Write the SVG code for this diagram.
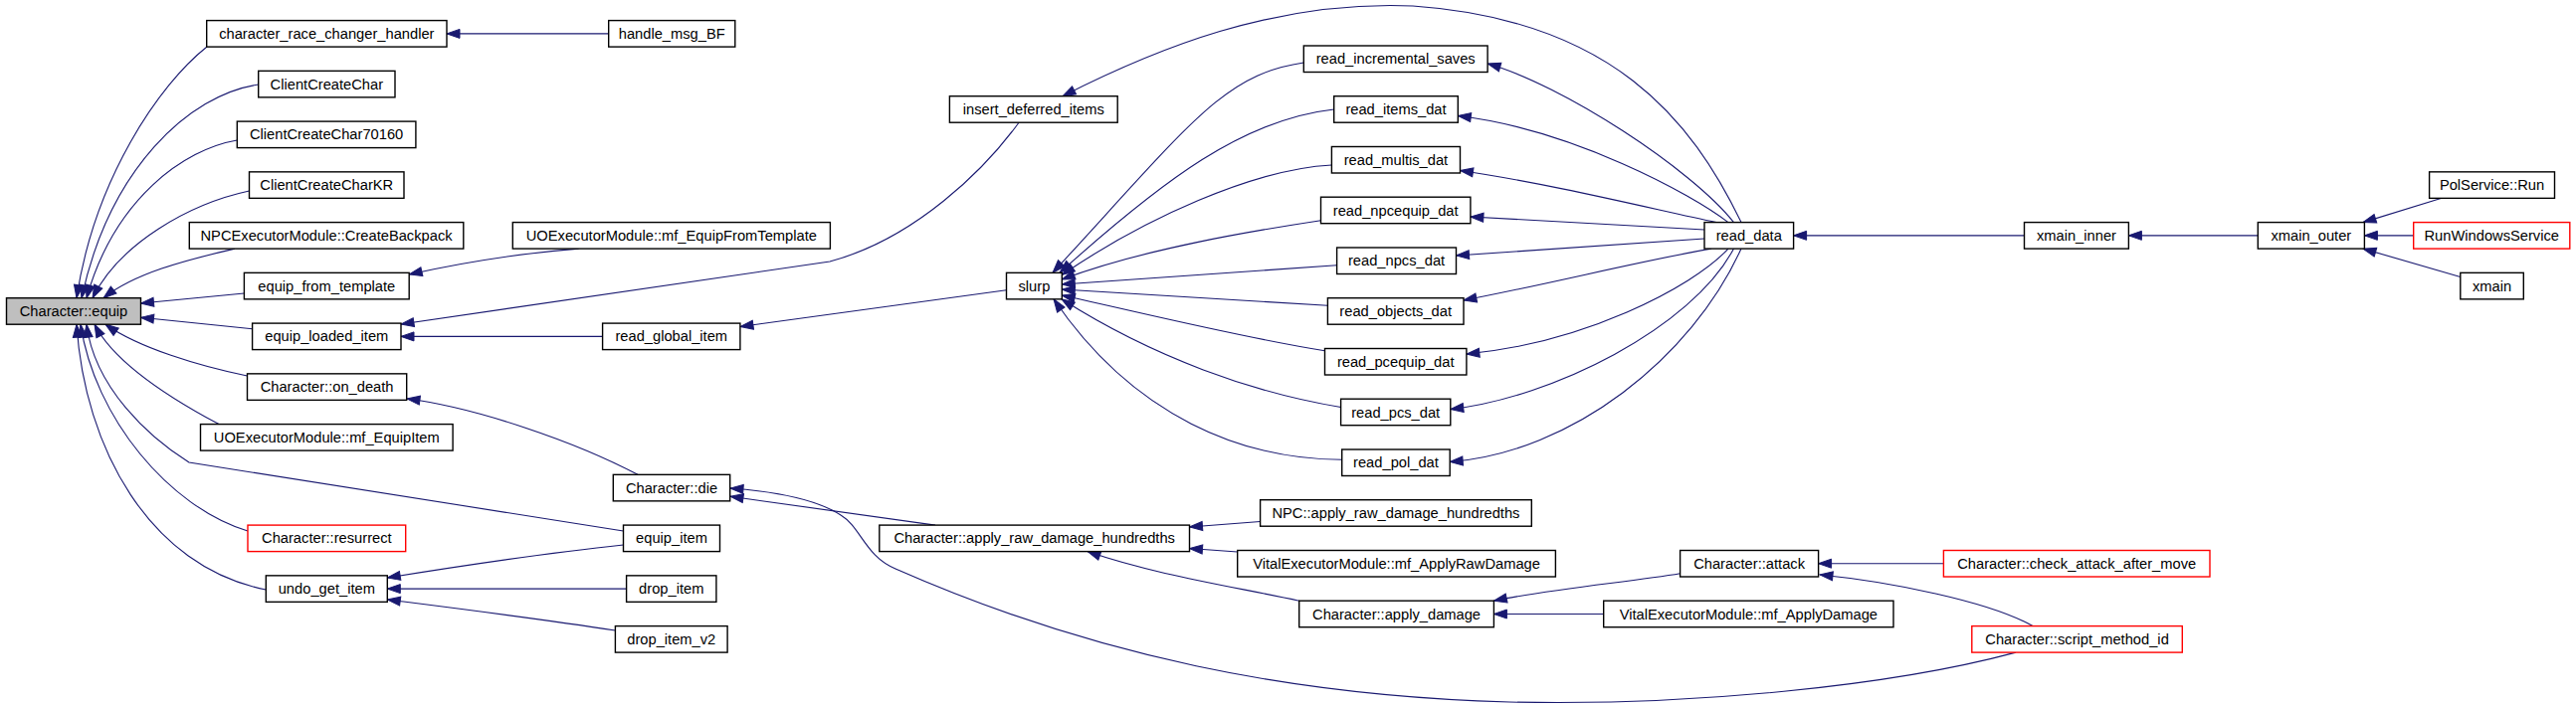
<svg xmlns="http://www.w3.org/2000/svg" width="2589" height="711" viewBox="0 0 2589 711">
<defs>
<style>
.n rect{fill:#ffffff;stroke:#000000;stroke-width:1.4}
.n.red rect{stroke:#ff0000}
.n.root rect{fill:#bfbfbf}
.n text{font-family:"Liberation Sans",Arial,sans-serif;font-size:14.7px;fill:#000000;text-anchor:middle}
.e path{fill:none;stroke:#191970;stroke-width:1.1;marker-end:url(#ah)}
</style>
<marker id="ah" viewBox="0 0 14 10" refX="13" refY="5" markerWidth="14" markerHeight="10" markerUnits="userSpaceOnUse" orient="auto" overflow="visible">
<path d="M0,0.5 L13,5 L0,9.5 z" fill="#191970" stroke="#191970" stroke-width="1"/>
</marker>
</defs>
<rect x="0" y="0" width="2589" height="711" fill="#ffffff"/>
<g id="edges" class="e">
<path d="M611.7,33.9 L449,33.9"/>
<path d="M208,47 C160,85 95,180 77,299.7"/>
<path d="M259.7,85 C190,95 110,170 82,299.7"/>
<path d="M238.3,141 C185,150 115,200 87,299.7"/>
<path d="M250.5,192 C190,205 120,245 93,299.7"/>
<path d="M236,250.1 C185,262 135,275 104,299.7"/>
<path d="M245.4,295 L141.5,305"/>
<path d="M253.6,330.7 L141.5,319.3"/>
<path d="M248.5,378 C200,368 140,350 106,326.2"/>
<path d="M220,426.6 C170,400 115,365 95,326.2"/>
<path d="M626.5,534 L190,465 C150,440 95,390 87,326.2"/>
<path d="M249,534 C170,510 95,420 81,326.2"/>
<path d="M267.3,593 C150,570 85,450 77,326.2"/>
<path d="M581.6,250.1 C520,255 460,265 411.2,276"/>
<path d="M1024,123.2 C990,170 920,240 834,263 L403,326"/>
<path d="M605.6,338.4 L403,338.4"/>
<path d="M1011.5,291.7 L744,328.5"/>
<path d="M1750,223.6 C1700,120 1620,20 1420,6 C1280,0 1160,50 1068,96.7"/>
<path d="M1310.3,63 C1230,75 1200,120 1058,274.3"/>
<path d="M1340.7,110 C1250,120 1170,180 1065,274.3"/>
<path d="M1338.4,166 C1260,170 1150,220 1067.3,276.5"/>
<path d="M1327.5,221.7 C1260,232 1150,250 1067.3,281"/>
<path d="M1343.6,266.7 L1067.3,286"/>
<path d="M1334.4,307.3 L1067.3,291"/>
<path d="M1331.5,352.7 C1250,340 1150,315 1067.3,297"/>
<path d="M1347.6,409.5 C1260,395 1160,360 1067,300.8"/>
<path d="M1348.7,462.3 C1250,462 1140,420 1059,300.8"/>
<path d="M1742.5,223.6 C1700,170 1570,85 1495.1,64"/>
<path d="M1737,223.6 C1700,195 1580,130 1465.3,116.5"/>
<path d="M1725,223.6 C1660,210 1560,185 1467.5,171.5"/>
<path d="M1713,231 L1477.9,218"/>
<path d="M1713,240 L1463.5,257"/>
<path d="M1720,250.1 C1650,262 1560,285 1471,302"/>
<path d="M1737,250.1 C1700,290 1590,345 1473.9,356"/>
<path d="M1742.5,250.1 C1700,330 1560,400 1457.8,411.5"/>
<path d="M1750,250.1 C1700,360 1580,455 1457.2,464.5"/>
<path d="M2034.5,236.85 L1802.6,236.85"/>
<path d="M2269.3,236.85 L2139.4,236.85"/>
<path d="M2425.7,236.85 L2376.4,236.85"/>
<path d="M2454,199.3 L2375,223.6"/>
<path d="M2472.8,278.5 L2375,250.1"/>
<path d="M641,477.3 C580,445 480,410 409,401"/>
<path d="M940,528.1 L734,499.3"/>
<path d="M2026,656.1 C1900,690 1700,710 1517,706 C1300,700 1100,660 900,572 C870,560 865,530 845,518 C825,505 790,495 734,491"/>
<path d="M1688.6,576.7 C1640,585 1560,592 1501.4,604.2"/>
<path d="M1611.7,617.5 L1501.4,617.5"/>
<path d="M1953.4,566.7 L1827.6,566.7"/>
<path d="M2043,629.6 C2000,605 1900,585 1829,578"/>
<path d="M1305.7,604.2 C1240,590 1160,578 1093,554.6"/>
<path d="M1266.6,524.5 L1195.5,530"/>
<path d="M1243.7,555 L1195.5,551.5"/>
<path d="M626.5,548 C560,555 470,568 389.3,581"/>
<path d="M629.6,592.1 L389.3,592.1"/>
<path d="M618.4,634 C540,622 460,612 389.3,603"/>
</g>
<g id="n_character_race_changer_handler" class="n"><rect x="207.7" y="20.6" width="241.3" height="26.5"/><text x="328.35" y="38.9">character_race_changer_handler</text></g>
<g id="n_handle_msg_BF" class="n"><rect x="611.7" y="20.6" width="127.1" height="26.5"/><text x="675.25" y="38.9">handle_msg_BF</text></g>
<g id="n_read_incremental_saves" class="n"><rect x="1310.3" y="46" width="184.8" height="26.5"/><text x="1402.7" y="64.3">read_incremental_saves</text></g>
<g id="n_ClientCreateChar" class="n"><rect x="259.7" y="71.35" width="137.3" height="26.5"/><text x="328.35" y="89.65">ClientCreateChar</text></g>
<g id="n_insert_deferred_items" class="n"><rect x="954.4" y="96.7" width="168.8" height="26.5"/><text x="1038.8" y="115">insert_deferred_items</text></g>
<g id="n_read_items_dat" class="n"><rect x="1340.7" y="96.7" width="124.6" height="26.5"/><text x="1403" y="115">read_items_dat</text></g>
<g id="n_ClientCreateChar70160" class="n"><rect x="238.3" y="122.1" width="179.6" height="26.5"/><text x="328.1" y="140.4">ClientCreateChar70160</text></g>
<g id="n_read_multis_dat" class="n"><rect x="1338.4" y="147.5" width="129.1" height="26.5"/><text x="1402.95" y="165.8">read_multis_dat</text></g>
<g id="n_ClientCreateCharKR" class="n"><rect x="250.5" y="172.85" width="155.5" height="26.5"/><text x="328.25" y="191.15">ClientCreateCharKR</text></g>
<g id="n_PolService_Run" class="n"><rect x="2441.6" y="172.85" width="125.9" height="26.5"/><text x="2504.55" y="191.15">PolService::Run</text></g>
<g id="n_read_npcequip_dat" class="n"><rect x="1327.5" y="198.2" width="150.4" height="26.5"/><text x="1402.7" y="216.5">read_npcequip_dat</text></g>
<g id="n_NPCExecutorModule_CreateBackpack" class="n"><rect x="190.3" y="223.6" width="275.5" height="26.5"/><text x="328.05" y="241.9">NPCExecutorModule::CreateBackpack</text></g>
<g id="n_UOExecutorModule_mf_EquipFromTemplate" class="n"><rect x="515.3" y="223.6" width="319.1" height="26.5"/><text x="674.85" y="241.9">UOExecutorModule::mf_EquipFromTemplate</text></g>
<g id="n_read_data" class="n"><rect x="1713" y="223.6" width="89.6" height="26.5"/><text x="1757.8" y="241.9">read_data</text></g>
<g id="n_xmain_inner" class="n"><rect x="2034.5" y="223.6" width="104.9" height="26.5"/><text x="2086.95" y="241.9">xmain_inner</text></g>
<g id="n_xmain_outer" class="n"><rect x="2269.3" y="223.6" width="107.1" height="26.5"/><text x="2322.85" y="241.9">xmain_outer</text></g>
<g id="n_RunWindowsService" class="n red"><rect x="2425.7" y="223.6" width="157.1" height="26.5"/><text x="2504.25" y="241.9">RunWindowsService</text></g>
<g id="n_read_npcs_dat" class="n"><rect x="1343.6" y="249" width="119.9" height="26.5"/><text x="1403.55" y="267.3">read_npcs_dat</text></g>
<g id="n_equip_from_template" class="n"><rect x="245.4" y="274.35" width="165.8" height="26.5"/><text x="328.3" y="292.65">equip_from_template</text></g>
<g id="n_slurp" class="n"><rect x="1011.5" y="274.35" width="55.8" height="26.5"/><text x="1039.4" y="292.65">slurp</text></g>
<g id="n_xmain" class="n"><rect x="2472.8" y="274.35" width="63.5" height="26.5"/><text x="2504.55" y="292.65">xmain</text></g>
<g id="n_Character_equip" class="n root"><rect x="6.5" y="299.7" width="135" height="26.5"/><text x="74" y="318">Character::equip</text></g>
<g id="n_read_objects_dat" class="n"><rect x="1334.4" y="299.7" width="136.6" height="26.5"/><text x="1402.7" y="318">read_objects_dat</text></g>
<g id="n_equip_loaded_item" class="n"><rect x="253.6" y="325.1" width="149.4" height="26.5"/><text x="328.3" y="343.4">equip_loaded_item</text></g>
<g id="n_read_global_item" class="n"><rect x="605.6" y="325.1" width="138.3" height="26.5"/><text x="674.75" y="343.4">read_global_item</text></g>
<g id="n_read_pcequip_dat" class="n"><rect x="1331.5" y="350.5" width="142.4" height="26.5"/><text x="1402.7" y="368.8">read_pcequip_dat</text></g>
<g id="n_Character_on_death" class="n"><rect x="248.5" y="375.85" width="160.2" height="26.5"/><text x="328.6" y="394.15">Character::on_death</text></g>
<g id="n_read_pcs_dat" class="n"><rect x="1347.6" y="401.2" width="110.2" height="26.5"/><text x="1402.7" y="419.5">read_pcs_dat</text></g>
<g id="n_UOExecutorModule_mf_EquipItem" class="n"><rect x="201.5" y="426.6" width="253.6" height="26.5"/><text x="328.3" y="444.9">UOExecutorModule::mf_EquipItem</text></g>
<g id="n_read_pol_dat" class="n"><rect x="1348.7" y="452" width="108.5" height="26.5"/><text x="1402.95" y="470.3">read_pol_dat</text></g>
<g id="n_Character_die" class="n"><rect x="616.3" y="477.35" width="117.4" height="26.5"/><text x="675" y="495.65">Character::die</text></g>
<g id="n_NPC_apply_raw_damage_hundredths" class="n"><rect x="1266.6" y="502.7" width="272.7" height="26.5"/><text x="1402.95" y="521">NPC::apply_raw_damage_hundredths</text></g>
<g id="n_Character_resurrect" class="n red"><rect x="249" y="528.1" width="158.7" height="26.5"/><text x="328.35" y="546.4">Character::resurrect</text></g>
<g id="n_equip_item" class="n"><rect x="626.5" y="528.1" width="97" height="26.5"/><text x="675" y="546.4">equip_item</text></g>
<g id="n_Character_apply_raw_damage_hundredths" class="n"><rect x="883.8" y="528.1" width="311.7" height="26.5"/><text x="1039.65" y="546.4">Character::apply_raw_damage_hundredths</text></g>
<g id="n_VitalExecutorModule_mf_ApplyRawDamage" class="n"><rect x="1243.7" y="553.5" width="319.7" height="26.5"/><text x="1403.55" y="571.8">VitalExecutorModule::mf_ApplyRawDamage</text></g>
<g id="n_Character_attack" class="n"><rect x="1688.6" y="553.5" width="139" height="26.5"/><text x="1758.1" y="571.8">Character::attack</text></g>
<g id="n_Character_check_attack_after_move" class="n red"><rect x="1953.4" y="553.5" width="267.6" height="26.5"/><text x="2087.2" y="571.8">Character::check_attack_after_move</text></g>
<g id="n_undo_get_item" class="n"><rect x="267.3" y="578.85" width="122" height="26.5"/><text x="328.3" y="597.15">undo_get_item</text></g>
<g id="n_drop_item" class="n"><rect x="629.6" y="578.85" width="90.3" height="26.5"/><text x="674.75" y="597.15">drop_item</text></g>
<g id="n_Character_apply_damage" class="n"><rect x="1305.7" y="604.2" width="195.7" height="26.5"/><text x="1403.55" y="622.5">Character::apply_damage</text></g>
<g id="n_VitalExecutorModule_mf_ApplyDamage" class="n"><rect x="1611.7" y="604.2" width="291.3" height="26.5"/><text x="1757.35" y="622.5">VitalExecutorModule::mf_ApplyDamage</text></g>
<g id="n_drop_item_v2" class="n"><rect x="618.4" y="629.6" width="112.7" height="26.5"/><text x="674.75" y="647.9">drop_item_v2</text></g>
<g id="n_Character_script_method_id" class="n red"><rect x="1981.8" y="629.6" width="211.5" height="26.5"/><text x="2087.55" y="647.9">Character::script_method_id</text></g>
</svg>
